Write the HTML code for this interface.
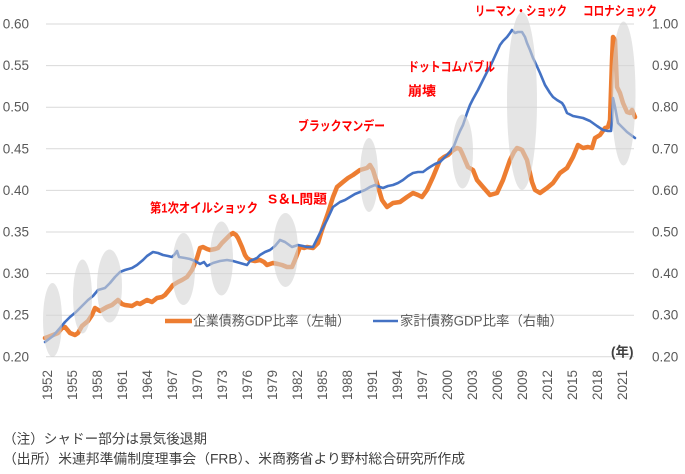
<!DOCTYPE html>
<html><head><meta charset="utf-8">
<style>
html,body{margin:0;padding:0;background:#fff;}
svg{display:block;}
text{font-family:"Liberation Sans","Noto Sans CJK JP",sans-serif;}
</style></head>
<body>
<svg width="685" height="474" viewBox="0 0 685 474" xmlns="http://www.w3.org/2000/svg">
<rect width="685" height="474" fill="#fff"/>
<!-- gridlines -->
<g stroke="#d9d9d9" stroke-width="1">
<line x1="46" y1="24" x2="634" y2="24"/>
<line x1="46" y1="65.6" x2="634" y2="65.6"/>
<line x1="46" y1="107.2" x2="634" y2="107.2"/>
<line x1="46" y1="148.8" x2="634" y2="148.8"/>
<line x1="46" y1="190.4" x2="634" y2="190.4"/>
<line x1="46" y1="232" x2="634" y2="232"/>
<line x1="46" y1="273.6" x2="634" y2="273.6"/>
<line x1="46" y1="315.2" x2="634" y2="315.2"/>
<line x1="46" y1="356.8" x2="634" y2="356.8"/>
</g>
<!-- left axis labels -->
<g fill="#595959" font-size="13.5" text-anchor="end" dominant-baseline="central">
<text x="29" y="24">0.60</text>
<text x="29" y="65.6">0.55</text>
<text x="29" y="107.2">0.50</text>
<text x="29" y="148.8">0.45</text>
<text x="29" y="190.4">0.40</text>
<text x="29" y="232">0.35</text>
<text x="29" y="273.6">0.30</text>
<text x="29" y="315.2">0.25</text>
<text x="29" y="356.8">0.20</text>
</g>
<!-- right axis labels -->
<g fill="#595959" font-size="13.5" text-anchor="start" dominant-baseline="central">
<text x="652" y="24">1.00</text>
<text x="652" y="65.6">0.90</text>
<text x="652" y="107.2">0.80</text>
<text x="652" y="148.8">0.70</text>
<text x="652" y="190.4">0.60</text>
<text x="652" y="232">0.50</text>
<text x="652" y="273.6">0.40</text>
<text x="652" y="315.2">0.30</text>
<text x="652" y="356.8">0.20</text>
</g>
<!-- x axis labels -->
<g fill="#595959" font-size="13.5" text-anchor="end" dominant-baseline="central">
<text transform="translate(47.5,370) rotate(-90)">1952</text>
<text transform="translate(72.5,370) rotate(-90)">1955</text>
<text transform="translate(97.5,370) rotate(-90)">1958</text>
<text transform="translate(122.5,370) rotate(-90)">1961</text>
<text transform="translate(147.5,370) rotate(-90)">1964</text>
<text transform="translate(172.5,370) rotate(-90)">1967</text>
<text transform="translate(197.5,370) rotate(-90)">1970</text>
<text transform="translate(222.5,370) rotate(-90)">1973</text>
<text transform="translate(247.5,370) rotate(-90)">1976</text>
<text transform="translate(272.5,370) rotate(-90)">1979</text>
<text transform="translate(297.5,370) rotate(-90)">1982</text>
<text transform="translate(322.5,370) rotate(-90)">1985</text>
<text transform="translate(347.5,370) rotate(-90)">1988</text>
<text transform="translate(372.5,370) rotate(-90)">1991</text>
<text transform="translate(397.5,370) rotate(-90)">1994</text>
<text transform="translate(422.5,370) rotate(-90)">1997</text>
<text transform="translate(447.5,370) rotate(-90)">2000</text>
<text transform="translate(472.5,370) rotate(-90)">2003</text>
<text transform="translate(497.5,370) rotate(-90)">2006</text>
<text transform="translate(522.5,370) rotate(-90)">2009</text>
<text transform="translate(547.5,370) rotate(-90)">2012</text>
<text transform="translate(572.5,370) rotate(-90)">2015</text>
<text transform="translate(597.5,370) rotate(-90)">2018</text>
<text transform="translate(622.5,370) rotate(-90)">2021</text>
</g>
<!-- orange series -->
<polyline fill="none" stroke="#ed7d31" stroke-width="4.5" stroke-linejoin="round" stroke-linecap="round" points="45,338 48,337 53,335 58,333 62,328 65,327 70,333 75,335 78,333 82,326 88,321 92,315 95,308 100,311 107,307 112,305 118,300 122,304 125,305 132,306 137,303 140,304 147,300 152,302 157,298 162,297 165,295 170,289 173,285 178,282 182,280 187,277 192,270 197,258 200,248 203,247 207,249 210,250 215,249 218,248 222,243 226,239 230,235 233,233 236,235 238,238 242,247 245,255 247,258 250,260 255,261 260,260 264,262 267,265 273,263 278,264 282,265 287,267 292,267 295,260 300,247 304,248 307,247 313,248 318,243 322,230 328,213 333,197 337,187 343,182 348,178 353,175 360,170 367,168 370,165 373,170 377,183 382,200 387,207 393,203 400,202 407,197 413,193 418,195 422,197 427,190 433,177 440,160 444,157 448,155 452,151 457,148 460,149 462,153 468,167 473,170 477,180 483,187 490,195 497,193 503,180 510,160 514,152 517,148 520,149 522,150 527,160 532,182 535,190 540,193 547,188 553,183 560,173 567,168 573,157 578,145 583,148 588,147 592,148 595,138 600,135 605,128 608,127 610,120 612,60 613,37 615,40 617,87 620,93 623,103 627,112 630,113 632,110 635,117"/>
<!-- blue series -->
<polyline fill="none" stroke="#4472c4" stroke-width="2.6" stroke-linejoin="round" stroke-linecap="round" points="45,342 49,339 53,336 60,328 65,322 70,317 76,312 83,305 88,300 93,296 98,290 105,288 110,283 115,277 120,272 125,270 132,268 137,265 143,260 147,256 153,252 158,253 163,255 168,256 172,257 175,254 177,251 179,257 185,258 190,259 195,261 200,264 204,262 207,266 213,263 220,261 227,260 233,261 240,263 247,265 250,261 257,258 260,255 265,252 270,250 275,246 280,240 285,242 292,247 298,245 303,246 307,247 313,247 316,241 320,233 327,220 333,207 340,202 345,200 350,197 355,194 360,192 365,190 370,187 375,185 380,187 383,188 388,186 393,185 398,183 403,180 408,176 413,173 418,172 423,172 427,169 430,167 435,164 440,162 445,157 450,152 454,146 457,138 460,131 463,125 467,113 470,105 473,99 478,90 483,80 487,72 490,67 495,56 500,45 503,41 507,37 510,33 512,30 515,33 518,32 522,32 525,37 527,43 530,50 533,58 535,62 540,73 545,85 550,93 553,97 557,100 562,103 564,106 567,113 573,116 578,117 583,118 590,121 597,126 603,130 608,131 611,131 612,120 613,98 615,107 618,123 622,127 627,132 631,135 635,138"/>
<!-- recession shading -->
<g fill="#d4d4d4" fill-opacity="0.6">
<ellipse cx="52.5" cy="320" rx="9.5" ry="37"/>
<ellipse cx="82.5" cy="296.5" rx="9.5" ry="37"/>
<ellipse cx="109.5" cy="286" rx="12.5" ry="36.5"/>
<ellipse cx="183.5" cy="269" rx="11.5" ry="36"/>
<ellipse cx="221.5" cy="258.5" rx="11.5" ry="37"/>
<ellipse cx="285.5" cy="250" rx="12.5" ry="37"/>
<ellipse cx="369" cy="175" rx="9" ry="37"/>
<ellipse cx="462.5" cy="151.5" rx="10.5" ry="37"/>
<ellipse cx="522" cy="101" rx="15" ry="89"/>
<ellipse cx="623.5" cy="93.5" rx="12" ry="72"/>
</g>
<!-- legend -->
<line x1="165" y1="321" x2="192" y2="321" stroke="#ed7d31" stroke-width="4.5"/>
<text x="193" y="321" dominant-baseline="central" font-size="13.5" fill="#595959" textLength="157" lengthAdjust="spacingAndGlyphs">企業債務GDP比率（左軸）</text>
<line x1="373" y1="321" x2="398" y2="321" stroke="#4472c4" stroke-width="2.6"/>
<text x="400" y="321" dominant-baseline="central" font-size="13.5" fill="#595959" textLength="163" lengthAdjust="spacingAndGlyphs">家計債務GDP比率（右軸）</text>
<!-- (年) -->
<text x="611" y="352" dominant-baseline="central" font-size="13.5" font-weight="bold" fill="#404040">(年)</text>
<!-- annotations -->
<g fill="#ff0000" font-size="13" font-weight="bold" dominant-baseline="central">
<text x="150" y="208" textLength="108" lengthAdjust="spacingAndGlyphs">第1次オイルショック</text>
<text x="268" y="199" textLength="59" lengthAdjust="spacingAndGlyphs">S＆L問題</text>
<text x="298" y="126" textLength="87" lengthAdjust="spacingAndGlyphs">ブラックマンデー</text>
<text x="408" y="67" textLength="87" lengthAdjust="spacingAndGlyphs">ドットコムバブル</text>
<text x="408" y="91" textLength="28" lengthAdjust="spacingAndGlyphs">崩壊</text>
<text x="475" y="11" textLength="92" lengthAdjust="spacingAndGlyphs">リーマン・ショック</text>
<text x="583" y="11" textLength="74" lengthAdjust="spacingAndGlyphs">コロナショック</text>
</g>
<!-- footnotes -->
<g fill="#404040" font-size="13.5" dominant-baseline="central">
<text x="3" y="439" textLength="204" lengthAdjust="spacingAndGlyphs">（注）シャドー部分は景気後退期</text>
<text x="3" y="459" textLength="462" lengthAdjust="spacingAndGlyphs">（出所）米連邦準備制度理事会（FRB）、米商務省より野村総合研究所作成</text>
</g>
</svg>
</body></html>
